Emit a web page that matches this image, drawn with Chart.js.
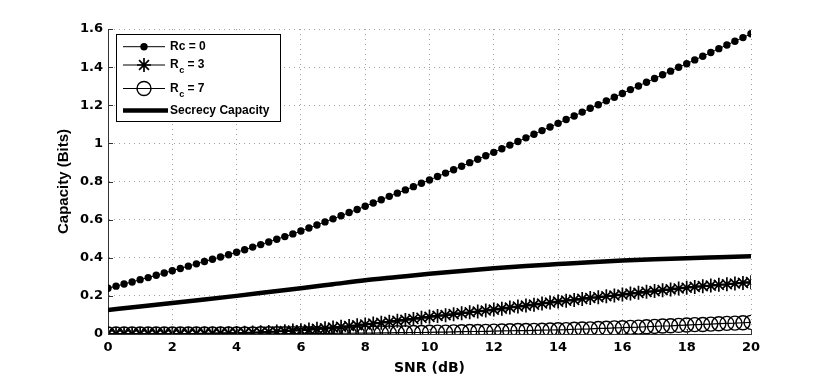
<!DOCTYPE html>
<html>
<head>
<meta charset="utf-8">
<script src="https://cdn.jsdelivr.net/npm/chart.js@4.4.1/dist/chart.umd.min.js"></script>
<style>
  html, body { margin: 0; padding: 0; background: #fff; }
  #wrap { width: 830px; height: 377px; }
</style>
</head>
<body>
<div id="wrap"><canvas id="capChart" width="830" height="377"></canvas></div>
<script>
// SNR (dB), one sample every 0.25 dB
const snrDb = [
    0, 0.25, 0.5, 0.75, 1, 1.25, 1.5, 1.75,
    2, 2.25, 2.5, 2.75, 3, 3.25, 3.5, 3.75,
    4, 4.25, 4.5, 4.75, 5, 5.25, 5.5, 5.75,
    6, 6.25, 6.5, 6.75, 7, 7.25, 7.5, 7.75,
    8, 8.25, 8.5, 8.75, 9, 9.25, 9.5, 9.75,
    10, 10.25, 10.5, 10.75, 11, 11.25, 11.5, 11.75,
    12, 12.25, 12.5, 12.75, 13, 13.25, 13.5, 13.75,
    14, 14.25, 14.5, 14.75, 15, 15.25, 15.5, 15.75,
    16, 16.25, 16.5, 16.75, 17, 17.25, 17.5, 17.75,
    18, 18.25, 18.5, 18.75, 19, 19.25, 19.5, 19.75,
    20
];

// Rc = 0
const capRc0 = [
    0.240, 0.251, 0.262, 0.273, 0.285, 0.296, 0.308, 0.320,
    0.332, 0.344, 0.356, 0.368, 0.380, 0.392, 0.404, 0.416,
    0.429, 0.442, 0.456, 0.469, 0.483, 0.497, 0.511, 0.525,
    0.540, 0.556, 0.572, 0.588, 0.604, 0.620, 0.637, 0.653,
    0.670, 0.687, 0.704, 0.722, 0.739, 0.756, 0.773, 0.791,
    0.808, 0.826, 0.844, 0.862, 0.880, 0.899, 0.917, 0.935,
    0.953, 0.972, 0.991, 1.010, 1.029, 1.048, 1.067, 1.086,
    1.105, 1.125, 1.144, 1.164, 1.184, 1.203, 1.223, 1.242,
    1.262, 1.282, 1.301, 1.321, 1.340, 1.360, 1.379, 1.399,
    1.418, 1.438, 1.457, 1.477, 1.497, 1.516, 1.536, 1.555,
    1.575
];

// Rc = 3
const capRc3 = [
    0.000, 0.000, 0.000, 0.000, 0.000, 0.000, 0.000, 0.000,
    0.000, 0.000, 0.001, 0.001, 0.002, 0.002, 0.003, 0.004,
    0.005, 0.006, 0.008, 0.009, 0.011, 0.013, 0.015, 0.018,
    0.020, 0.023, 0.027, 0.030, 0.034, 0.038, 0.042, 0.046,
    0.050, 0.055, 0.059, 0.064, 0.069, 0.074, 0.079, 0.085,
    0.090, 0.095, 0.099, 0.104, 0.109, 0.114, 0.118, 0.123,
    0.128, 0.133, 0.139, 0.144, 0.149, 0.154, 0.160, 0.165,
    0.170, 0.175, 0.179, 0.184, 0.189, 0.193, 0.198, 0.202,
    0.207, 0.212, 0.216, 0.221, 0.225, 0.230, 0.234, 0.239,
    0.243, 0.247, 0.251, 0.254, 0.258, 0.261, 0.265, 0.268,
    0.272
];

// Rc = 7
const capRc7 = [
    0.000, 0.000, 0.000, 0.000, 0.000, 0.000, 0.000, 0.000,
    0.000, 0.000, 0.000, 0.000, 0.000, 0.000, 0.000, 0.000,
    0.000, 0.000, 0.000, 0.001, 0.001, 0.001, 0.001, 0.002,
    0.002, 0.002, 0.003, 0.003, 0.003, 0.004, 0.004, 0.005,
    0.005, 0.005, 0.006, 0.006, 0.007, 0.007, 0.008, 0.008,
    0.009, 0.010, 0.010, 0.011, 0.012, 0.013, 0.013, 0.014,
    0.015, 0.016, 0.017, 0.018, 0.018, 0.019, 0.020, 0.021,
    0.022, 0.023, 0.025, 0.026, 0.027, 0.029, 0.030, 0.032,
    0.033, 0.035, 0.036, 0.038, 0.040, 0.042, 0.043, 0.045,
    0.047, 0.049, 0.050, 0.052, 0.054, 0.056, 0.057, 0.059,
    0.061
];

// Secrecy capacity, read every 1 dB
const snrSecrecy = [0, 1, 2, 3, 4, 5, 6, 7, 8, 9, 10, 11, 12, 13, 14, 15, 16, 17, 18, 19, 20];
const capSecrecy = [
    0.126, 0.144, 0.163, 0.181, 0.200, 0.220, 0.240, 0.261, 0.282, 0.299, 0.316,
    0.331, 0.345, 0.357, 0.367, 0.377, 0.385, 0.392, 0.398, 0.403, 0.408
];

const xTicks = [0, 2, 4, 6, 8, 10, 12, 14, 16, 18, 20];
const yTicks = [0, 0.2, 0.4, 0.6, 0.8, 1, 1.2, 1.4, 1.6];

const seriesNames = ['Rc = 0', 'R_c = 3', 'R_c = 7', 'Secrecy Capacity'];

const toPoints = (xs, ys) => xs.map((x, i) => ({ x: x, y: ys[i] }));

const tickFont  = { family: '"DejaVu Sans", sans-serif', size: 13, weight: 'bold' };
const legendFnt = '"Liberation Sans", Arial, sans-serif';

// MATLAB style legend with subscripts, drawn in a box over the top left corner
const boxLegend = {
    id: 'boxLegend',
    afterDraw(chart) {
        const ctx = chart.ctx;
        const box = { x: 116.5, y: 34.5, w: 164, h: 87 };
        const rowsY = [46.7, 65, 88.5, 110.5];
        const lineX0 = 123, lineX1 = 165, markX = 144, textX = 170;

        ctx.save();
        ctx.fillStyle = '#fff';
        ctx.fillRect(box.x, box.y, box.w, box.h);
        ctx.strokeStyle = '#000';
        ctx.lineWidth = 1;
        ctx.strokeRect(box.x, box.y, box.w, box.h);

        chart.data.datasets.forEach((ds, i) => {
            const y = rowsY[i];
            ctx.strokeStyle = '#000';
            ctx.fillStyle = '#000';
            ctx.lineWidth = ds.borderWidth;
            ctx.beginPath();
            ctx.moveTo(lineX0, y);
            ctx.lineTo(i === 3 ? 168 : lineX1, y);
            ctx.stroke();

            // marker
            ctx.lineWidth = ds.pointBorderWidth || 1;
            const r = ds.pointRadius;
            if (ds.pointStyle === 'circle' && r > 0) {
                ctx.beginPath();
                ctx.arc(markX, y, r, 0, Math.PI * 2);
                if (ds.pointBackgroundColor === '#000') ctx.fill();
                else ctx.stroke();
            } else if (ds.pointStyle === 'star') {
                ctx.beginPath();
                const d = r * Math.SQRT1_2;
                ctx.moveTo(markX - r, y); ctx.lineTo(markX + r, y);
                ctx.moveTo(markX, y - r); ctx.lineTo(markX, y + r);
                ctx.moveTo(markX - d, y - d); ctx.lineTo(markX + d, y + d);
                ctx.moveTo(markX - d, y + d); ctx.lineTo(markX + d, y - d);
                ctx.stroke();
            }

            // text, "_c" becomes a subscript
            const label = seriesNames[i];
            ctx.textBaseline = 'middle';
            ctx.textAlign = 'left';
            ctx.font = 'bold 12px ' + legendFnt;
            const k = label.indexOf('_');
            if (k < 0) {
                ctx.fillText(label, textX, y);
            } else {
                const head = label.slice(0, k);
                const sub = label.charAt(k + 1);
                const rest = label.slice(k + 2);
                ctx.fillText(head, textX, y);
                let x = textX + ctx.measureText(head).width + 0.5;
                ctx.font = 'bold 9px ' + legendFnt;
                ctx.fillText(sub, x, y + 6);
                x += ctx.measureText(sub).width;
                ctx.font = 'bold 12px ' + legendFnt;
                ctx.fillText(rest, x, y);
            }
        });
        ctx.restore();
    }
};

// small inward tick marks on the left and bottom axes
const innerTicks = {
    id: 'innerTicks',
    afterDatasetsDraw(chart) {
        const { ctx, chartArea, scales } = chart;
        ctx.save();
        ctx.strokeStyle = '#333';
        ctx.lineWidth = 1;
        ctx.beginPath();
        xTicks.forEach(v => {
            const px = Math.round(scales.x.getPixelForValue(v)) + 0.5;
            ctx.moveTo(px, chartArea.bottom);
            ctx.lineTo(px, chartArea.bottom - 5);
        });
        yTicks.forEach(v => {
            const py = Math.round(scales.y.getPixelForValue(v)) + 0.5;
            ctx.moveTo(chartArea.left, py);
            ctx.lineTo(chartArea.left + 5, py);
        });
        ctx.stroke();
        ctx.restore();
    }
};

new Chart(document.getElementById('capChart').getContext('2d'), {
    type: 'line',
    data: {
        datasets: [
            {
                label: 'Rc = 0',
                data: toPoints(snrDb, capRc0),
                borderColor: '#000',
                borderWidth: 1,
                pointStyle: 'circle',
                pointRadius: 3.7,
                pointBackgroundColor: '#000',
                pointBorderColor: '#000',
                pointBorderWidth: 0,
                fill: false
            },
            {
                label: 'Rc = 3',
                data: toPoints(snrDb, capRc3),
                borderColor: '#000',
                borderWidth: 1.2,
                pointStyle: 'star',
                pointRadius: 7,
                pointBackgroundColor: 'rgba(0,0,0,0)',
                pointBorderColor: '#000',
                pointBorderWidth: 1.7,
                fill: false
            },
            {
                label: 'Rc = 7',
                data: toPoints(snrDb, capRc7),
                borderColor: '#000',
                borderWidth: 1.2,
                pointStyle: 'circle',
                pointRadius: 7,
                pointBackgroundColor: 'rgba(0,0,0,0)',
                pointBorderColor: '#000',
                pointBorderWidth: 1.4,
                fill: false
            },
            {
                label: 'Secrecy Capacity',
                data: toPoints(snrSecrecy, capSecrecy),
                borderColor: '#000',
                borderWidth: 4.5,
                pointRadius: 0,
                cubicInterpolationMode: 'monotone',
                fill: false
            }
        ]
    },
    options: {
        responsive: false,
        animation: false,
        devicePixelRatio: 1,
        layout: { padding: { top: 29, right: 79, bottom: 0, left: 0 } },
        plugins: {
            legend: { display: false },
            tooltip: { enabled: false }
        },
        scales: {
            x: {
                type: 'linear',
                min: 0,
                max: 20,
                afterBuildTicks: s => { s.ticks = xTicks.map(v => ({ value: v })); },
                afterFit: s => { s.height = 43; },
                grid: { color: '#a0a0a0', lineWidth: 1, drawTicks: false },
                border: { display: true, color: '#333', width: 1, dash: [1, 4] },
                ticks: { color: '#000', font: tickFont, padding: 6, maxRotation: 0 },
                title: {
                    display: true,
                    text: 'SNR (dB)',
                    color: '#000',
                    font: { family: '"DejaVu Sans", sans-serif', size: 14, weight: 'bold' },
                    padding: { top: 0, bottom: 0 }
                }
            },
            y: {
                min: 0,
                max: 1.6,
                afterBuildTicks: s => { s.ticks = yTicks.map(v => ({ value: v })); },
                afterFit: s => { s.width = 108; },
                grid: { color: '#a0a0a0', lineWidth: 1, drawTicks: false },
                border: { display: true, color: '#333', width: 1, dash: [1, 4] },
                ticks: {
                    color: '#000',
                    font: tickFont,
                    padding: 5,
                    callback: v => String(Math.round(v * 10) / 10)
                },
                title: {
                    display: true,
                    text: 'Capacity (Bits)',
                    color: '#000',
                    font: { family: '"Liberation Sans", Arial, sans-serif', size: 15, weight: 'bold' },
                    padding: { top: 55, bottom: 0 }
                }
            }
        }
    },
    plugins: [innerTicks, boxLegend]
});
</script>
</body>
</html>
